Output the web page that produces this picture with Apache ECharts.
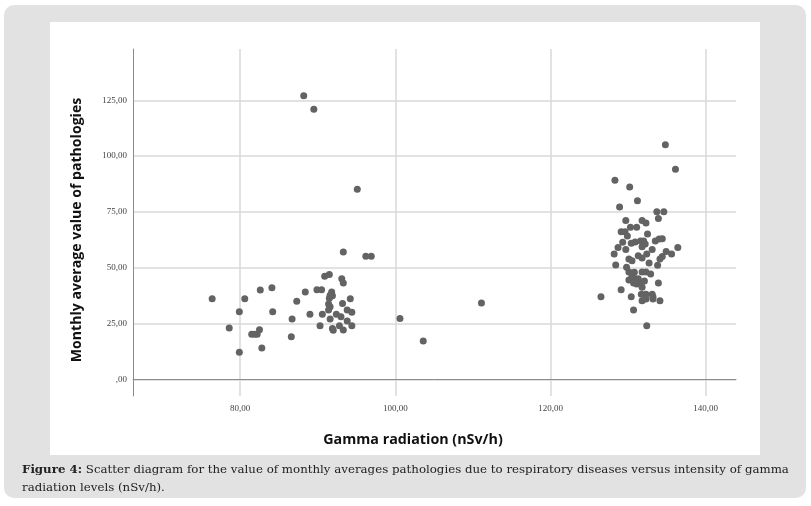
<!DOCTYPE html>
<html>
<head>
<meta charset="utf-8">
<script src="https://cdn.jsdelivr.net/npm/echarts@6/dist/echarts.min.js"></script>
<style>
html, body { margin: 0; background: #fff; }
#chart { width: 811px; height: 506px; }
</style>
</head>
<body>
<div id="chart"></div>
<script>
// gamma radiation (nSv/h) vs monthly average of pathologies
var gamma = [
  88.2, 89.5, 95.1, 93.3, 76.4, 78.6, 79.9, 79.9, 80.6, 82.6, 84.1, 84.2,
  81.5, 81.9, 82.2, 82.5, 82.8, 86.6, 86.7, 87.3, 88.4, 89.0, 89.9, 90.5,
  90.3, 90.6, 90.9, 91.5, 91.5, 91.8, 91.6, 91.9, 91.4, 91.6, 91.4, 91.6,
  91.9, 92.0, 92.4, 92.8, 93.0, 93.2, 93.1, 93.3, 93.3, 93.8, 94.2, 94.4,
  93.8, 94.4, 96.2, 96.9, 100.6, 103.6, 111.1,
  126.5, 134.8, 136.1, 128.3, 130.2, 131.2, 128.9, 133.7, 134.6, 133.9,
  129.7, 131.8, 132.3, 129.1, 129.6, 130.3, 131.1, 132.5, 129.9, 129.3,
  128.7, 129.7, 130.4, 130.9, 131.6, 132.0, 132.2, 131.8, 133.5, 134.0,
  134.4, 133.1, 136.4, 134.9, 135.6, 134.4, 134.1, 128.2, 130.1, 130.5,
  131.3, 131.8, 132.4, 132.7, 133.8, 128.4, 129.8, 130.1, 130.5, 130.8,
  131.8, 132.3, 132.9, 130.1, 130.5, 130.9, 131.3, 131.7, 132.1, 130.7,
  131.1, 131.8, 133.9, 129.1, 130.4, 131.7, 132.3, 133.1, 133.2, 131.8,
  132.3, 133.2, 134.1, 130.7, 132.4
];
var pathologies = [
  127.1, 121.0, 85.1, 57.0, 36.1, 23.0, 12.1, 30.2, 36.1, 40.0, 41.0, 30.2,
  20.2, 20.2, 20.2, 22.2, 14.0, 19.1, 27.0, 35.0, 39.1, 29.1, 40.1, 40.1,
  24.0, 29.1, 46.2, 47.0, 36.3, 39.1, 37.6, 37.4, 33.7, 32.5, 31.0, 27.0,
  22.7, 22.0, 29.1, 24.0, 28.0, 34.0, 45.0, 43.1, 22.1, 31.0, 36.1, 30.0,
  26.1, 24.0, 55.1, 55.1, 27.2, 17.2, 34.2,
  37.0, 105.1, 94.1, 89.2, 86.2, 80.0, 77.2, 75.1, 75.1, 72.0,
  71.2, 71.2, 70.0, 66.1, 66.1, 68.1, 68.1, 65.1, 64.2, 61.4,
  59.1, 58.2, 61.0, 61.5, 62.0, 62.0, 60.6, 59.4, 62.0, 62.9,
  63.0, 58.1, 59.1, 57.2, 56.1, 55.0, 53.9, 56.1, 53.9, 53.1,
  55.4, 54.3, 56.1, 52.1, 51.1, 51.2, 50.2, 48.1, 47.6, 47.9,
  48.1, 48.1, 47.2, 44.5, 46.0, 45.0, 45.0, 43.1, 44.0, 43.1,
  42.7, 41.2, 43.1, 40.1, 37.0, 38.1, 38.1, 38.1, 37.0, 35.2,
  36.0, 36.0, 35.2, 31.0, 24.0
];
var xTicks = [80, 100, 120, 140];
var yTicks = [0, 25, 50, 75, 100, 125];

function fmt(v) {
  var s = v.toFixed(2).replace('.', ',');
  return v === 0 ? ',00' : s;
}

var points = gamma.map(function (g, i) { return [g, pathologies[i]]; });

var chart = echarts.init(document.getElementById('chart'));
chart.setOption({
  backgroundColor: '#fff',
  animation: false,
  grid: { left: 133, right: 75, top: 49, bottom: 110 },
  xAxis: {
    type: 'value', min: 66.2, max: 143.9,
    axisLine: { lineStyle: { color: '#8c8c8c', width: 1 } },
    axisTick: { show: false, customValues: xTicks },
    splitLine: { show: true, lineStyle: { color: '#d9d9d9', width: 1.5 } },
    axisLabel: {
      customValues: xTicks, formatter: fmt, margin: 8,
      fontFamily: 'Liberation Serif', fontSize: 9, color: '#444'
    }
  },
  yAxis: {
    type: 'value', min: -7.5, max: 148,
    axisLine: { show: true, lineStyle: { color: '#8c8c8c', width: 1 } },
    axisTick: { show: false, customValues: yTicks },
    splitLine: { show: true, lineStyle: { color: '#d9d9d9', width: 1.5 } },
    axisLabel: {
      customValues: yTicks, formatter: fmt, margin: 6,
      fontFamily: 'Liberation Serif', fontSize: 9, color: '#444'
    }
  },
  graphic: {
    elements: [
      { type: 'rect', z: -100, silent: true,
        shape: { x: 4, y: 5, width: 802, height: 493, r: 10 },
        style: { fill: '#e2e2e2' } },
      { type: 'rect', z: -99, silent: true,
        shape: { x: 50, y: 22, width: 710, height: 433 },
        style: { fill: '#ffffff' } },
      { type: 'text', x: 77, y: 230, rotation: Math.PI / 2,
        style: { text: 'Monthly average value of pathologies', fontFamily: 'Open Sans',
                 fontWeight: 700, fontSize: 14.1, fill: '#111', align: 'center', verticalAlign: 'middle' } },
      { type: 'text', x: 413, y: 440,
        style: { text: 'Gamma radiation (nSv/h)', fontFamily: 'Open Sans',
                 fontWeight: 700, fontSize: 14.3, fill: '#111', align: 'center', verticalAlign: 'middle' } },
      { type: 'text', x: 22, y: 461,
        style: {
          text: '{b|Figure 4:} Scatter diagram for the value of monthly averages pathologies due to respiratory diseases versus intensity of gamma\nradiation levels (nSv/h).',
          fontFamily: 'DejaVu Serif', fontSize: 11.8, fill: '#222', lineHeight: 18,
          rich: { b: { fontWeight: 'bold', fontFamily: 'DejaVu Serif', fontSize: 11.8, fill: '#222' } }
        } }
    ]
  },
  series: [{
    type: 'scatter',
    data: points,
    symbolSize: 7,
    itemStyle: { color: '#636363', opacity: 1 }
  }]
});
</script>
</body>
</html>
